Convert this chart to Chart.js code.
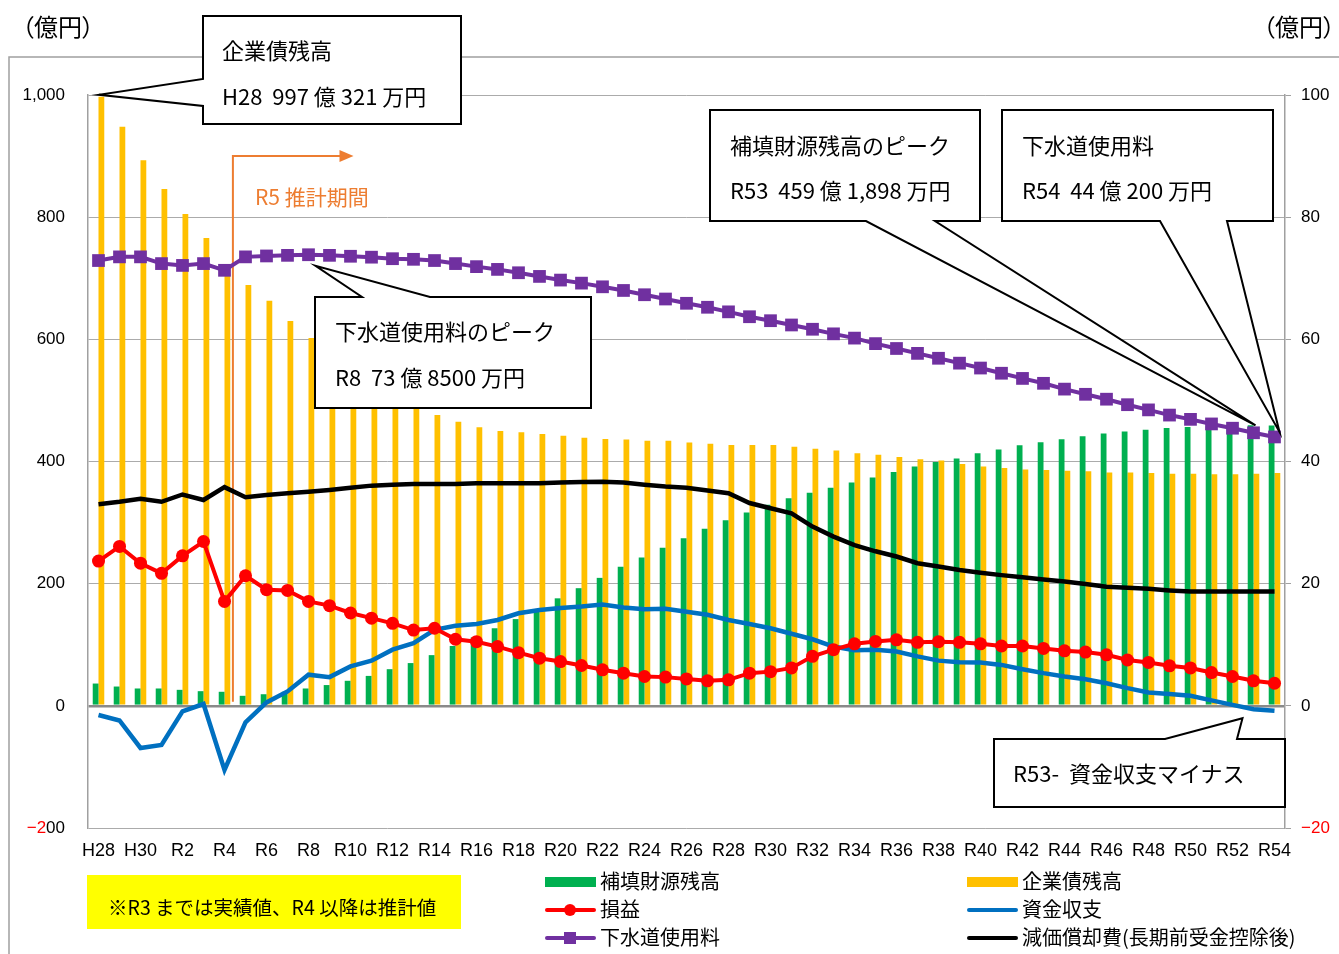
<!DOCTYPE html>
<html lang="ja">
<head>
<meta charset="utf-8">
<title>下水道事業 収支の見通し</title>
<script src="https://cdn.jsdelivr.net/npm/chart.js@4.4.1/dist/chart.umd.min.js"></script>
<style>
  html, body { margin: 0; padding: 0; background: #fff; }
  #wrap { position: relative; width: 1339px; height: 954px; overflow: hidden; }
  #chart { position: absolute; left: 0; top: 0; }
  .t { position: absolute; white-space: pre; line-height: 1; color: #000;
       font-family: 'Noto Sans CJK JP', 'Noto Sans', sans-serif; }
  .unit { font-feature-settings: "palt" 1; }
</style>
</head>
<body>
<div id="wrap">
  <canvas id="chart" width="1339" height="954"></canvas>
</div>
<script>
// 年度
const years = [
  'H28','H29','H30','R1','R2','R3','R4','R5','R6','R7','R8','R9','R10','R11','R12','R13',
  'R14','R15','R16','R17','R18','R19','R20','R21','R22','R23','R24','R25','R26','R27','R28',
  'R29','R30','R31','R32','R33','R34','R35','R36','R37','R38','R39','R40','R41','R42','R43',
  'R44','R45','R46','R47','R48','R49','R50','R51','R52','R53','R54'
];

// 補填財源残高（億円・左軸）
const hotenZandaka = [
  36.5, 31.6, 28.4, 28.4, 26.2, 24.0, 23.0, 16.4, 19.0, 23.0, 28.4, 34.0, 41.0, 49.0, 60.0, 70.0,
  83.0, 98.0, 112.0, 127.0, 142.0, 156.0, 176.0, 192.6, 209.5, 227.5, 243.0, 258.6, 274.4, 290.0, 304.0,
  316.4, 329.0, 340.0, 349.0, 357.0, 365.5, 374.0, 383.0, 391.7, 399.0, 405.0, 413.5, 419.5, 426.6, 431.5,
  436.5, 441.4, 445.7, 449.0, 452.0, 455.0, 456.5, 457.8, 458.7, 459.1898, 458.8
];

// 企業債残高（億円・左軸）
const kigyosaiZandaka = [
  997.0321, 948, 893, 846, 805, 766, 706, 689, 663, 630, 602, 575, 550, 528, 508, 490,
  476, 465, 456, 450, 448, 445, 442, 439, 437, 436, 434, 434, 431, 429, 427,
  427, 427, 424, 421, 418, 413.5, 411, 407.5, 403.7, 401.5, 396, 391.7, 389.5, 387, 386,
  385, 384, 382, 382, 381, 380, 380, 379, 379, 380, 381
];

// 損益（億円・右軸）
const soneki = [
  23.7, 26.1, 23.35, 21.7, 24.55, 26.9, 17.1, 21.3, 19.0, 18.9, 17.1, 16.4, 15.2, 14.35, 13.5, 12.4,
  12.7, 10.9, 10.5, 9.7, 8.7, 7.8, 7.25, 6.6, 5.9, 5.35, 4.8, 4.7, 4.4, 4.1, 4.25,
  5.35, 5.6, 6.2, 8.1, 9.2, 10.15, 10.55, 10.8, 10.4, 10.5, 10.4, 10.15, 9.8, 9.8, 9.4,
  9.0, 8.8, 8.35, 7.5, 7.1, 6.55, 6.2, 5.45, 4.8, 4.1, 3.7
];

// 資金収支（億円・右軸）
const shikinShushi = [
  -1.5, -2.4, -6.9, -6.4, -0.9, 0.3, -10.5, -2.7, 0.55, 2.35, 5.1, 4.7, 6.45, 7.4, 9.2, 10.25,
  12.45, 13.1, 13.4, 14.05, 15.15, 15.7, 16.0, 16.25, 16.6, 16.1, 15.8, 15.9, 15.4, 14.9, 14.05,
  13.4, 12.7, 11.8, 10.9, 9.7, 9.1, 9.2, 8.9, 8.1, 7.4, 7.15, 7.1, 6.7, 6.0, 5.35,
  4.8, 4.35, 3.7, 2.9, 2.2, 1.95, 1.65, 0.9, 0.15, -0.55, -0.8
];

// 下水道使用料（億円・右軸）
const gesuidoShiyoryo = [
  72.9, 73.5, 73.5, 72.4, 72.1, 72.4, 71.3, 73.5, 73.65, 73.75, 73.85, 73.75, 73.6, 73.45, 73.2, 73.1,
  72.9, 72.4, 71.9, 71.45, 70.9, 70.3, 69.7, 69.2, 68.6, 68.0, 67.3, 66.6, 65.9, 65.25, 64.5,
  63.7, 63.05, 62.35, 61.65, 60.9, 60.2, 59.3, 58.5, 57.7, 56.9, 56.1, 55.3, 54.45, 53.6, 52.8,
  51.85, 51.0, 50.2, 49.3, 48.45, 47.6, 46.9, 46.15, 45.45, 44.7, 44.02
];

// 減価償却費（長期前受金控除後）（億円・右軸）
const genkaShokyaku = [
  33.0, 33.4, 33.9, 33.4, 34.6, 33.7, 35.8, 34.15, 34.5, 34.8, 35.05, 35.35, 35.7, 36.05, 36.2, 36.3,
  36.3, 36.3, 36.45, 36.45, 36.45, 36.45, 36.55, 36.65, 36.7, 36.55, 36.2, 35.9, 35.7, 35.25, 34.8,
  33.2, 32.35, 31.5, 29.35, 27.7, 26.3, 25.3, 24.45, 23.35, 22.8, 22.25, 21.8, 21.4, 21.05, 20.7,
  20.35, 19.95, 19.5, 19.35, 19.15, 18.9, 18.7, 18.7, 18.7, 18.7, 18.7
];

// 軸の目盛り
const leftAxis = { min: -200, max: 1000, step: 200 };
const rightAxis = { min: -20, max: 100, step: 20 };

const COLORS = {
  hoten: '#00B050', kigyosai: '#FFC000', soneki: '#FF0000',
  shikin: '#0070C0', gesuido: '#7030A0', genka: '#000000', orange: '#ED7D31'
};
const LATIN = "'Liberation Sans', Arial, sans-serif";

// 吹き出し（枠と引き出し線）
function drawCallout(ctx, box, side, a, b, tip) {
  const [x1, y1, x2, y2] = box;
  const pts = [[x1, y1]];
  if (side === 'top') pts.push([a, y1], tip, [b, y1]);
  pts.push([x2, y1], [x2, y2]);
  if (side === 'bottom') pts.push([b, y2], tip, [a, y2]);
  pts.push([x1, y2]);
  if (side === 'left') pts.push([x1, b], tip, [x1, a]);
  ctx.save();
  ctx.beginPath();
  ctx.moveTo(pts[0][0], pts[0][1]);
  for (let i = 1; i < pts.length; i++) ctx.lineTo(pts[i][0], pts[i][1]);
  ctx.closePath();
  ctx.fillStyle = '#fff';
  ctx.fill();
  ctx.lineWidth = 2;
  ctx.lineJoin = 'miter';
  ctx.strokeStyle = '#000';
  ctx.stroke();
  ctx.restore();
}

const decor = {
  id: 'decor',
  beforeDraw(chart) {
    const c = chart.ctx;
    c.save();
    c.fillStyle = '#fff';
    c.fillRect(0, 0, chart.width, chart.height);
    c.strokeStyle = '#A0A0A0';
    c.lineWidth = 1.5;
    c.strokeRect(9, 57, 1400, 1000);
    c.restore();
  },
  beforeDatasetsDraw(chart) {
    // 推計期間の区切り線と矢印
    const c = chart.ctx, xs = chart.scales.x, yl = chart.scales.y;
    const i4 = years.indexOf('R4');
    const x0 = xs.getPixelForValue(i4) + 0.4 * (xs.getPixelForValue(i4 + 1) - xs.getPixelForValue(i4));
    const yTop = yl.getPixelForValue(900);
    const yBot = yl.getPixelForValue(0) - 4;
    const xTip = xs.getPixelForValue(years.indexOf('R10')) + 3;
    c.save();
    c.strokeStyle = COLORS.orange;
    c.fillStyle = COLORS.orange;
    c.lineWidth = 2;
    c.beginPath();
    c.moveTo(x0, yBot);
    c.lineTo(x0, yTop);
    c.lineTo(xTip - 12, yTop);
    c.stroke();
    c.beginPath();
    c.moveTo(xTip, yTop);
    c.lineTo(xTip - 14, yTop - 6);
    c.lineTo(xTip - 14, yTop + 6);
    c.closePath();
    c.fill();
    c.restore();
  },
  afterDatasetsDraw(chart) {
    const c = chart.ctx, xs = chart.scales.x, yl = chart.scales.y, yr = chart.scales.y2;
    const X = k => xs.getPixelForValue(years.indexOf(k));
    drawCallout(c, [203, 16, 461, 124], 'left', 79, 106,
      [X('H28') + 0.5, yl.getPixelForValue(kigyosaiZandaka[0]) - 2]);
    drawCallout(c, [315, 297, 591, 408], 'top', 362, 430,
      [X('R8') + 7, yr.getPixelForValue(gesuidoShiyoryo[years.indexOf('R8')]) + 11]);
    drawCallout(c, [710, 110, 980, 221], 'bottom', 866, 935,
      [X('R53') + 2, yl.getPixelForValue(hotenZandaka[years.indexOf('R53')])]);
    drawCallout(c, [1002, 110, 1273, 221], 'bottom', 1160, 1227,
      [X('R54') + 5, yr.getPixelForValue(gesuidoShiyoryo[years.indexOf('R54')]) - 5]);
    drawCallout(c, [994, 739, 1285, 807], 'top', 1165, 1237,
      [X('R53') - 11, yr.getPixelForValue(shikinShushi[years.indexOf('R53')]) + 9]);
  },
  afterDraw(chart) {
    const c = chart.ctx, yl = chart.scales.y;
    c.save();
    // 左軸 −200 の目盛りラベル
    const yv = yl.getPixelForValue(leftAxis.min);
    c.font = '17px ' + LATIN;
    c.textBaseline = 'middle';
    c.textAlign = 'right';
    c.fillStyle = '#000';
    c.fillText('00', 65, yv);
    const w = c.measureText('00').width;
    c.fillStyle = '#FF0000';
    c.fillText('\u22122', 65 - w, yv);

    // 注記の背景
    c.fillStyle = '#FFFF00';
    c.fillRect(87, 875, 374, 54);

    // 凡例の記号
    c.lineCap = 'round';
    c.fillStyle = COLORS.hoten;
    c.fillRect(545, 877, 51, 10);
    c.fillStyle = COLORS.kigyosai;
    c.fillRect(967, 877, 51, 10);
    const line = (x1, x2, y, col) => {
      c.strokeStyle = col; c.lineWidth = 4;
      c.beginPath(); c.moveTo(x1, y); c.lineTo(x2, y); c.stroke();
    };
    line(547, 594, 910, COLORS.soneki);
    c.fillStyle = COLORS.soneki;
    c.beginPath(); c.arc(570, 910, 6, 0, Math.PI * 2); c.fill();
    line(547, 594, 938, COLORS.gesuido);
    c.fillStyle = COLORS.gesuido;
    c.fillRect(564, 932, 12, 12);
    line(969, 1016, 910, COLORS.shikin);
    line(969, 1016, 938, COLORS.genka);
    c.restore();
  }
};

const chart = new Chart(document.getElementById('chart'), {
  data: {
    labels: years,
    datasets: [
      { type: 'line', label: '下水道使用料', data: gesuidoShiyoryo, yAxisID: 'y2', order: 1,
        borderColor: COLORS.gesuido, backgroundColor: COLORS.gesuido, borderWidth: 4,
        pointStyle: 'rect', pointRadius: 9, pointBorderWidth: 0, pointBackgroundColor: COLORS.gesuido,
        tension: 0, fill: false },
      { type: 'line', label: '損益', data: soneki, yAxisID: 'y2', order: 2,
        borderColor: COLORS.soneki, backgroundColor: COLORS.soneki, borderWidth: 4,
        pointStyle: 'circle', pointRadius: 6.5, pointBorderWidth: 0, pointBackgroundColor: COLORS.soneki,
        tension: 0, fill: false },
      { type: 'line', label: '減価償却費(長期前受金控除後)', data: genkaShokyaku, yAxisID: 'y2', order: 3,
        borderColor: COLORS.genka, borderWidth: 4.5, pointRadius: 0, tension: 0, fill: false },
      { type: 'line', label: '資金収支', data: shikinShushi, yAxisID: 'y2', order: 4,
        borderColor: COLORS.shikin, borderWidth: 4.5, pointRadius: 0, tension: 0, fill: false },
      { type: 'bar', label: '補填財源残高', data: hotenZandaka, yAxisID: 'y', order: 10,
        backgroundColor: COLORS.hoten, borderWidth: 0, categoryPercentage: 0.55, barPercentage: 1.0 },
      { type: 'bar', label: '企業債残高', data: kigyosaiZandaka, yAxisID: 'y', order: 11,
        backgroundColor: COLORS.kigyosai, borderWidth: 0, categoryPercentage: 0.55, barPercentage: 1.0 }
    ]
  },
  options: {
    responsive: false,
    animation: false,
    devicePixelRatio: 1,
    layout: { padding: { top: 95, left: 0, right: 0, bottom: 0 } },
    plugins: { legend: { display: false }, tooltip: { enabled: false }, title: { display: false } },
    scales: {
      x: {
        type: 'category',
        offset: true,
        grid: { display: false, drawTicks: false },
        border: { display: false },
        ticks: {
          autoSkip: false, maxRotation: 0, minRotation: 0, padding: 12,
          color: '#000', font: { size: 18, family: LATIN },
          callback: (v, i) => (i % 2 === 0 ? years[i] : '')
        },
        afterFit: s => { s.height = 126; }
      },
      y: {
        position: 'left',
        min: leftAxis.min, max: leftAxis.max,
        ticks: {
          stepSize: leftAxis.step, padding: 23, color: '#000',
          font: { size: 17, family: LATIN },
          callback: v => (v === leftAxis.min ? '' : v.toLocaleString('en-US'))
        },
        grid: {
          drawTicks: false,
          color: ctx => (ctx.tick && ctx.tick.value === 0 ? '#8A8A8A' : '#ABABAB'),
          lineWidth: ctx => (ctx.tick && ctx.tick.value === 0 ? 2.5 : 1)
        },
        border: { display: true, color: '#A0A0A0', width: 1.5 },
        afterFit: s => { s.width = 88; }
      },
      y2: {
        position: 'right',
        min: rightAxis.min, max: rightAxis.max,
        ticks: {
          stepSize: rightAxis.step, padding: 10,
          font: { size: 17, family: LATIN },
          color: ctx => (ctx.tick && ctx.tick.value < 0 ? '#FF0000' : '#000'),
          callback: v => (v < 0 ? '\u2212' + Math.abs(v) : String(v))
        },
        grid: { drawOnChartArea: false, drawTicks: true, tickLength: 6, color: '#A0A0A0' },
        border: { display: true, color: '#A0A0A0', width: 1.5 },
        afterFit: s => { s.width = 54; }
      }
    }
  },
  plugins: [decor]
});

// 文字（単位・吹き出し・注記・凡例）
const texts = [
  { t: '（億円）', x: 22, y: 27, s: 24, cls: 'unit' },
  { t: '（億円）', x: 1263, y: 27, s: 24, cls: 'unit' },
  { t: '企業債残高', x: 222, y: 50, s: 22 },
  { t: 'H28  997 億 321 万円', x: 222, y: 96, s: 22 },
  { t: 'R5 推計期間', x: 255, y: 198, s: 21, c: COLORS.orange },
  { t: '下水道使用料のピーク', x: 335, y: 331, s: 22 },
  { t: 'R8  73 億 8500 万円', x: 335, y: 377, s: 22 },
  { t: '補填財源残高のピーク', x: 730, y: 145, s: 22 },
  { t: 'R53  459 億 1,898 万円', x: 730, y: 190, s: 22 },
  { t: '下水道使用料', x: 1022, y: 145, s: 22 },
  { t: 'R54  44 億 200 万円', x: 1022, y: 190, s: 22 },
  { t: 'R53-  資金収支マイナス', x: 1013, y: 773, s: 22 },
  { t: '※R3 までは実績値、R4 以降は推計値', x: 108, y: 908, s: 19.5 },
  { t: '補填財源残高', x: 600, y: 882, s: 20 },
  { t: '損益', x: 600, y: 910, s: 20 },
  { t: '下水道使用料', x: 600, y: 938, s: 20 },
  { t: '企業債残高', x: 1022, y: 882, s: 20 },
  { t: '資金収支', x: 1022, y: 910, s: 20 },
  { t: '減価償却費(長期前受金控除後)', x: 1022, y: 938, s: 20 }
];
const wrap = document.getElementById('wrap');
texts.forEach(o => {
  const d = document.createElement('div');
  d.className = 't' + (o.cls ? ' ' + o.cls : '');
  d.textContent = o.t;
  d.style.left = o.x + 'px';
  d.style.top = (o.y - 0.55 * o.s) + 'px';
  d.style.fontSize = o.s + 'px';
  if (o.c) d.style.color = o.c;
  wrap.appendChild(d);
});
</script>
</body>
</html>
